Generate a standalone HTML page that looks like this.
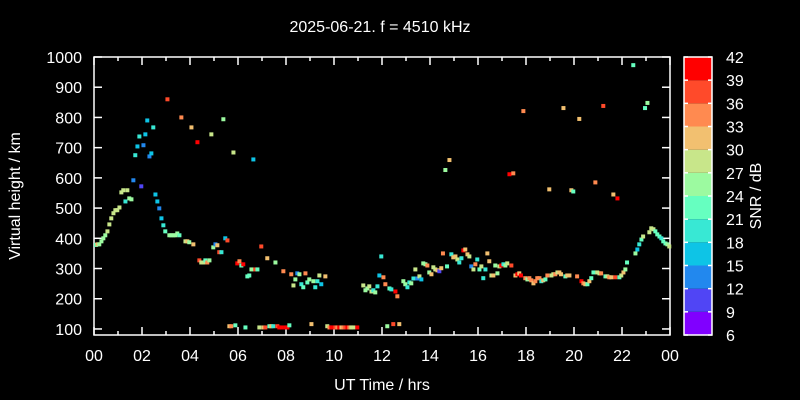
<!DOCTYPE html>
<html><head><meta charset="utf-8"><style>
html,body{margin:0;padding:0;background:#000;}
svg{display:block;font-family:"Liberation Sans",sans-serif;}
</style></head><body>
<svg id="c" width="800" height="400" xmlns="http://www.w3.org/2000/svg">
<rect width="800" height="400" fill="#000"/>
<text x="380" y="32" fill="#fff" font-size="16" text-anchor="middle">2025-06-21. f = 4510 kHz</text>
<text x="382" y="390" fill="#fff" font-size="16" text-anchor="middle">UT Time / hrs</text>
<text transform="translate(20,196) rotate(-90)" fill="#fff" font-size="16" text-anchor="middle">Virtual height / km</text>
<text transform="translate(761,196) rotate(-90)" fill="#fff" font-size="16" text-anchor="middle">SNR / dB</text>
<g id="axes"></g><g id="pts"></g><g id="cbar"></g>
</svg>
<script>
const hours=[0.08,0.14,0.22,0.31,0.39,0.47,0.56,0.64,0.72,0.81,0.89,0.97,1.06,1.14,1.22,1.31,1.39,1.47,1.56,1.64,1.72,1.81,1.89,1.97,2.06,2.14,2.22,2.31,2.39,2.47,2.56,2.64,2.72,2.81,2.89,2.97,3.06,3.14,3.22,3.31,3.39,3.47,3.56,3.64,3.81,3.89,3.97,4.06,4.14,4.31,4.39,4.47,4.56,4.64,4.72,4.81,4.89,4.97,5.06,5.14,5.22,5.31,5.39,5.47,5.56,5.64,5.72,5.81,5.89,5.97,6.06,6.14,6.22,6.31,6.39,6.47,6.56,6.64,6.72,6.81,6.89,6.97,7.06,7.14,7.22,7.31,7.39,7.47,7.56,7.64,7.72,7.81,7.89,7.97,8.06,8.14,8.22,8.31,8.39,8.47,8.56,
8.64,8.72,8.81,8.89,8.97,9.06,9.14,9.22,9.31,9.39,9.47,9.64,9.72,9.81,9.89,9.97,10.06,10.14,10.22,10.31,10.39,10.47,10.56,10.64,10.72,10.81,10.97,11.22,11.31,11.39,11.47,11.56,11.64,11.72,11.81,11.89,11.97,12.06,12.14,12.22,12.31,12.39,12.47,12.56,12.64,12.72,12.89,12.97,13.06,13.14,13.22,13.31,13.39,13.47,13.56,13.64,13.72,13.81,13.89,13.97,14.06,14.14,14.22,14.31,14.39,14.47,14.54,14.64,14.71,14.81,14.89,14.97,15.06,15.14,15.22,15.31,15.39,15.47,15.56,15.64,15.72,15.81,15.89,15.97,16.06,
16.14,16.22,16.31,16.39,16.47,16.56,16.64,16.72,16.81,16.89,16.97,17.06,17.14,17.22,17.31,17.39,17.47,17.56,17.64,17.72,17.79,17.89,17.97,18.06,18.14,18.22,18.31,18.39,18.47,18.56,18.64,18.72,18.81,18.89,18.97,19.06,19.14,19.22,19.31,19.39,19.46,19.56,19.64,19.72,19.81,19.89,19.97,20.13,20.22,20.31,20.39,20.47,20.56,20.64,20.72,20.81,20.89,20.97,21.06,21.13,21.22,21.31,21.39,21.47,21.56,21.64,21.72,21.81,21.89,21.97,22.06,22.14,22.21,22.47,22.56,22.64,22.72,22.81,22.88,22.96,23.06,23.14,23.22,23.31,23.39,23.47,23.56,23.64,23.72,23.81,23.89,23.97];
const heights=[378,380,380,390,400,410,423,446,466,483,493,493,502,552,559,522,559,532,529,592,675,704,737,572,708,744,790,671,681,767,545,522,499,466,443,423,860,410,410,410,410,416,410,800,390,390,387,767,380,718,327,320,320,327,320,327,744,370,380,377,354,354,794,400,393,109,109,684,112,317,324,310,314,105,274,277,297,661,297,297,105,373,105,105,334,109,109,109,320,109,105,105,291,105,105,112,281,244,264,284,281,
248,238,284,254,264,116,258,238,258,277,248,274,109,105,105,105,105,105,105,105,105,105,105,105,105,105,105,244,228,234,241,224,228,221,241,277,340,271,248,109,234,231,116,224,208,116,258,248,238,254,251,267,297,267,274,264,317,314,310,287,281,304,297,294,291,301,350,626,307,659,347,337,340,330,320,334,360,363,347,340,307,297,314,330,297,307,
268,297,350,324,277,277,310,284,307,310,314,310,317,612,310,615,277,281,284,277,821,268,264,268,261,251,258,268,268,258,261,264,277,562,277,281,281,287,287,281,831,274,277,277,559,555,274,795,258,251,248,248,258,268,287,585,287,284,284,838,274,274,271,271,545,271,532,271,277,287,297,320,973,350,363,380,396,406,831,848,420,433,430,423,413,406,400,390,383,380,373,367];
const snr=[22,31,24,24,25,24,27,27,27,27,28,28,27,27,27,18,27,24,25,13,19,16,19,10,13,16,17,14,16,19,17,16,14,17,20,21,38,24,24,24,24,24,21,34,27,30,24,31,31,41,37,27,27,21,33,24,28,24,14,31,36,20,24,16,38,30,34,28,21,40,34,21,41,21,22,21,24,16,36,22,28,38,31,38,32,21,30,20,24,36,41,41,35,40,40,21,35,27,24,14,24,
20,21,34,21,24,31,24,18,19,27,17,30,28,33,40,41,36,34,40,31,34,37,40,35,27,27,40,27,25,24,27,27,20,24,18,15,18,34,34,24,22,20,38,41,34,31,24,25,20,18,24,18,27,13,27,17,24,24,34,24,31,27,27,31,10,31,35,24,21,31,20,31,31,27,20,20,39,31,31,27,13,27,35,18,21,
27,20,20,31,31,27,31,24,24,27,40,20,24,27,40,38,34,31,40,31,39,34,34,24,34,34,31,34,34,34,20,31,21,34,31,27,27,34,27,31,31,31,21,31,31,31,21,34,31,40,34,31,21,31,21,21,34,27,27,34,38,21,27,34,31,31,38,40,21,27,31,24,21,21,24,16,20,21,27,21,24,27,27,27,21,21,21,18,21,21,24,27];
const cbTicks=[6,9,12,15,18,21,24,27,30,33,36,39,42];
const bandColors=['#8000ff','#5045f5','#2288ee','#0ec4e6','#38e8d4','#66ffc0','#9cfaa0','#c8e68a','#f2c070','#ff8a50','#ff4a2a','#ff0000'];
const yTicks=[100,200,300,400,500,600,700,800,900,1000];
const xTickLabels=['00','02','04','06','08','10','12','14','16','18','20','22','00'];

const NS='http://www.w3.org/2000/svg';
const L=94,R=670,T=57,B=335;
const xs=h=>L+(h/24)*(R-L);
const ys=v=>B-(v-80)/920*(B-T);
const cbY=s=>B-(s-6)/36*(B-T);
function mk(tag,attrs,parent){const e=document.createElementNS(NS,tag);for(const k in attrs)e.setAttribute(k,attrs[k]);parent.appendChild(e);return e;}
function col(s){let i=Math.floor((s-6)/3);if(i<0)i=0;if(i>11)i=11;return bandColors[i];}

const ax=document.getElementById('axes');
const frame=mk('rect',{x:L,y:T,width:R-L,height:B-T,fill:'none',stroke:'#fff','stroke-width':1.5},ax);


for(let h=0;h<=24;h++){
  const x=xs(h),len=(h%2==0)?8:4;
  const t1=mk('line',{x1:x,x2:x,y1:B,y2:B-len,stroke:'#fff','stroke-width':1.5},ax);
  
  
  const t2=mk('line',{x1:x,x2:x,y1:T,y2:T+len,stroke:'#fff','stroke-width':1.5},ax);
  
  
}
xTickLabels.forEach((lab,i)=>{
  const t=mk('text',{x:xs(i*2),y:361,fill:'#fff','font-size':16,'text-anchor':'middle'},ax);
  t.textContent=lab;
  
  
});
yTicks.forEach(v=>{
  const y=ys(v);
  const a=mk('line',{x1:L,x2:L+8,y1:y,y2:y,stroke:'#fff','stroke-width':1.5},ax);
  
  
  const b=mk('line',{x1:R,x2:R-8,y1:y,y2:y,stroke:'#fff','stroke-width':1.5},ax);
  
  
  const t=mk('text',{x:82,y:y+6,fill:'#fff','font-size':16,'text-anchor':'end'},ax);
  t.textContent=v;
  
  
});
const pg=document.getElementById('pts');
hours.forEach((h,i)=>{
  const r=mk('rect',{x:xs(h)-2,y:ys(heights[i])-2,width:4,height:4,fill:col(snr[i])},pg);
  
  
});
const cb=document.getElementById('cbar');
for(let i=0;i<12;i++){
  const r=mk('rect',{x:684,y:cbY(cbTicks[i+1]),width:28,height:cbY(cbTicks[i])-cbY(cbTicks[i+1]),fill:bandColors[i]},cb);
  
  
}
const cf=mk('rect',{x:684,y:T,width:28,height:B-T,fill:'none',stroke:'#fff','stroke-width':1.5},cb);


cbTicks.forEach(s=>{
  const y=cbY(s);
  const l1=mk('line',{x1:684,x2:688,y1:y,y2:y,stroke:'#fff','stroke-width':1.5},cb);
  
  
  const l2=mk('line',{x1:708,x2:712,y1:y,y2:y,stroke:'#fff','stroke-width':1.5},cb);
  
  
  const t=mk('text',{x:726,y:y+6,fill:'#fff','font-size':16},cb);
  t.textContent=s;
  
  
});
</script>
</body></html>
